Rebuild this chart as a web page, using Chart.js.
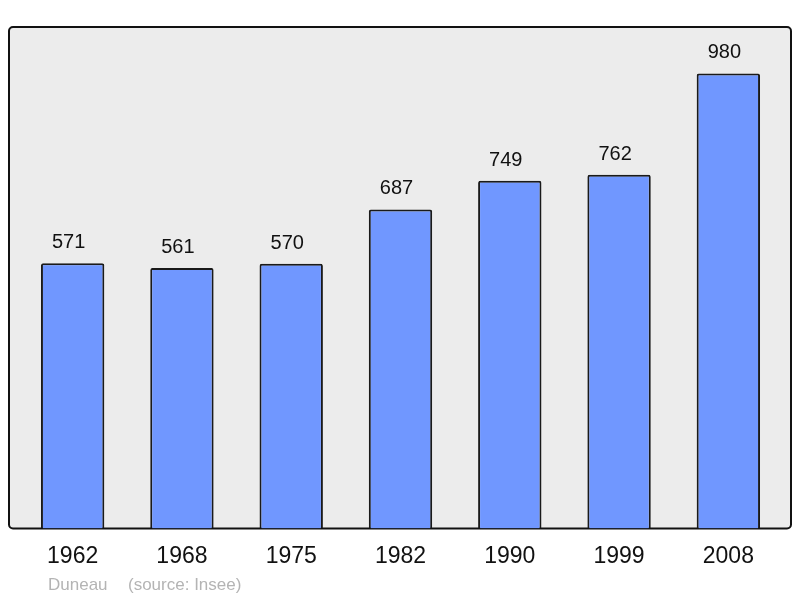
<!DOCTYPE html>
<html>
<head>
<meta charset="utf-8">
<script src="https://cdn.jsdelivr.net/npm/chart.js@4/dist/chart.umd.min.js"></script>
<style>
  html, body { margin: 0; padding: 0; background: #fff; }
  #wrap { width: 800px; height: 598px; }
</style>
</head>
<body>
<div id="wrap"><canvas id="grafica" width="800" height="598"></canvas></div>
<script>
// données de population (Insee)
var annees = ['1962', '1968', '1975', '1982', '1990', '1999', '2008'];
var population = [571, 561, 570, 687, 749, 762, 980];
var yMax = 1080;

var fontFam = '"Liberation Sans", Arial, sans-serif';

// fond gris avec cadre noir
var cadre = {
    id: 'cadre',
    beforeDraw: function (chart) {
        var a = chart.chartArea, ctx = chart.ctx;
        var x0 = a.left - 9, x1 = a.right + 8, y0 = a.top, y1 = a.bottom;
        ctx.save();
        ctx.beginPath();
        ctx.roundRect(x0, y0, x1 - x0, y1 - y0, 4);
        ctx.fillStyle = '#ececec';
        ctx.fill();
        ctx.lineWidth = 2;
        ctx.strokeStyle = '#111';
        ctx.stroke();
        ctx.restore();
    }
};

// valeurs au-dessus des barres + source
var etiquettes = {
    id: 'etiquettes',
    afterDatasetsDraw: function (chart) {
        var ctx = chart.ctx;
        var meta = chart.getDatasetMeta(0);
        ctx.save();
        ctx.font = '20px ' + fontFam;
        ctx.fillStyle = '#111';
        ctx.textAlign = 'center';
        ctx.textBaseline = 'alphabetic';
        meta.data.forEach(function (bar, i) {
            ctx.fillText(population[i], bar.x - 4, bar.y - 15);
        });
        ctx.font = '17px ' + fontFam;
        ctx.fillStyle = '#b4b4b4';
        ctx.textAlign = 'left';
        ctx.fillText('Duneau', 48, 590);
        ctx.fillText('(source: Insee)', 128, 590);
        ctx.restore();
    }
};

new Chart(document.getElementById('grafica'), {
    type: 'bar',
    data: {
        labels: annees,
        datasets: [{
            data: population,
            backgroundColor: '#7097ff',
            borderColor: '#1a1a1a',
            borderWidth: 2,
            borderRadius: 2,
            borderSkipped: 'bottom',
            barPercentage: 0.58,
            categoryPercentage: 1
        }]
    },
    options: {
        responsive: false,
        animation: false,
        layout: { padding: { left: 18, right: 17, top: 27, bottom: 14 } },
        plugins: {
            legend: { display: false },
            tooltip: { enabled: false }
        },
        scales: {
            x: {
                grid: { display: false, drawTicks: false },
                border: { display: false },
                ticks: {
                    color: '#111',
                    padding: 14,
                    font: { size: 23, family: fontFam }
                }
            },
            y: {
                display: false,
                min: 0,
                max: yMax
            }
        }
    },
    plugins: [cadre, etiquettes]
});
</script>
</body>
</html>
